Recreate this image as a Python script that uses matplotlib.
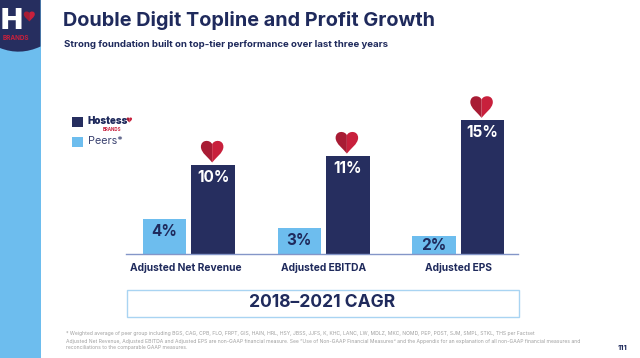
import matplotlib
matplotlib.use("Agg")
import matplotlib.pyplot as plt
from matplotlib.patches import Rectangle, PathPatch
from matplotlib.path import Path
from matplotlib.transforms import ScaledTranslation

categories = ["Adjusted Net Revenue", "Adjusted EBITDA", "Adjusted EPS"]
peers = [4, 3, 2]
hostess = [10, 11, 15]

NAVY = "#262e5f"
TEXT = "#1f2a5c"
LIGHT = "#6dbdee"
RED = "#c8203c"
DARKRED = "#a81c34"
GREY = "#a0a0a0"
FONT = "Inter"
W, H = 640, 358

plt.rcParams["font.family"] = [FONT, "DejaVu Sans"]
fig = plt.figure(figsize=(W / 100, H / 100), dpi=100, facecolor="white")

# overlay in pixel coordinates
ov = fig.add_axes([0, 0, 1, 1], zorder=0)
ov.set_xlim(0, W)
ov.set_ylim(H, 0)
ov.axis("off")

# chart axes
x0, x1, ybase, ytop = 126, 518, 254.3, 100
ax = fig.add_axes([x0 / W, 1 - ybase / H, (x1 - x0) / W, (ybase - ytop) / H], zorder=1)
ax.patch.set_alpha(0)
ax.set_xlim(-0.467, 2.443)
ax.set_ylim(0, (ybase - ytop) / 8.93)
pos = list(range(len(categories)))
bw, off = 0.323, 0.18
ax.bar([p - off for p in pos], peers, bw, color=LIGHT)
ax.bar([p + off for p in pos], hostess, bw, color=NAVY)
for s in ("top", "left", "right"):
    ax.spines[s].set_visible(False)
ax.spines["bottom"].set_color("#8496c8")
ax.spines["bottom"].set_linewidth(1.0)
ax.set_yticks([])
ax.set_xticks(pos, categories, fontsize=7.4, fontweight="bold", color=TEXT)
ax.tick_params(axis="x", length=0, pad=6)
first = ax.get_xticklabels()[0]
first.set_transform(first.get_transform() + ScaledTranslation(-3 / 100, 0, fig.dpi_scale_trans))


def draw_heart(cx, top, w=22.5, h=21.5):
    """Two-tone heart, cx/top in pixels of the overlay."""
    codes = [Path.MOVETO, Path.CURVE4, Path.CURVE4, Path.CURVE4, Path.CURVE4,
             Path.CURVE4, Path.CURVE4, Path.CLOSEPOLY]
    for sign, col in ((-1, DARKRED), (1, RED)):
        pts = [(0, .15), (.08, -.07), (.5, -.08), (.5, .27),
               (.5, .55), (.14, .8), (0, 1.0), (0, .15)]
        verts = [(cx + sign * u * w, top + v * h) for u, v in pts]
        ov.add_patch(PathPatch(Path(verts, codes), fc=col, ec="none"))


fig.canvas.draw()
for v, p in zip(hostess, pos):
    px, py = ax.transData.transform((p + off, v))
    draw_heart(px - 1, (H - py) - 24)
    ax.annotate(f"{v}%", (p + off, v), xytext=(0, -12.5 * .72), textcoords="offset points",
                ha="center", va="center", color="white", fontsize=11, fontweight="bold")
for v, p in zip(peers, pos):
    ax.annotate(f"{v}%", (p - off, v), xytext=(0, -min(12.5, v * 8.93 / 2) * .72), textcoords="offset points",
                ha="center", va="center", color=TEXT, fontsize=11, fontweight="bold")

# side band and logo
ov.add_patch(Rectangle((0, 0), 40.5, H, fc=LIGHT, ec="none"))
band = Path([(0, 0), (40.5, 0), (40.5, 46.5), (20, 56), (0, 48), (0, 0)],
            [Path.MOVETO, Path.LINETO, Path.LINETO, Path.CURVE3, Path.CURVE3, Path.CLOSEPOLY])
ov.add_patch(PathPatch(band, fc=NAVY, ec="none"))
ov.text(12, 29, "H", color="white", fontsize=21, fontweight="black", ha="center", va="baseline")
draw_heart(29.3, 11.5, 11, 10)
ov.text(15.5, 38, "BRANDS", color=RED, fontsize=4.6, fontweight="bold", ha="center", va="center")

# titles
ov.text(63, 20, "Double Digit Topline and Profit Growth", color=TEXT, fontsize=14.3,
        fontweight="bold", va="center", ha="left")
ov.text(64, 44.5, "Strong foundation built on top-tier performance over last three years", color=TEXT,
        fontsize=6.95, fontweight="bold", va="center", ha="left")

# legend
ov.add_patch(Rectangle((72, 116.5), 10.5, 10.5, fc=NAVY, ec="none"))
ov.add_patch(Rectangle((72, 136.5), 10.5, 10.5, fc=LIGHT, ec="none"))
ov.text(88, 121, "Hostess", color=TEXT, fontsize=7.0, fontweight="black", va="center", ha="left")
draw_heart(129.3, 117.5, 5.5, 5)
ov.text(112, 129.2, "BRANDS", color=RED, fontsize=3.2, fontweight="bold", va="center", ha="center")
ov.text(88, 141.5, "Peers*", color="#3a4270", fontsize=7.8, va="center", ha="left")

# CAGR box
ov.add_patch(Rectangle((126.5, 289.5), 392.5, 27, fc="white", ec="#a9d4f2", lw=1))
ov.text(322, 302.5, "2018\u20132021 CAGR", color=TEXT, fontsize=12.6, fontweight="bold", ha="center", va="center")

# footnotes
foot = [
    "* Weighted average of peer group including BGS, CAG, CPB, FLO, FRPT, GIS, HAIN, HRL, HSY, JBSS, JJFS, K, KHC, LANC, LW, MDLZ, MKC, NOMD, PEP, POST, SJM, SMPL, STKL, THS per Factset",
    "Adjusted Net Revenue, Adjusted EBITDA and Adjusted EPS are non-GAAP financial measure. See \u201cUse of Non-GAAP Financial Measures\u201d and the Appendix for an explanation of all non-GAAP financial measures and",
    "reconciliations to the comparable GAAP measures.",
]
for y, t in zip((334, 341.5, 348), foot):
    ov.text(66, y, t, color=GREY, fontsize=3.64, va="center", ha="left")
ov.text(618, 348.5, "111", color=TEXT, fontsize=5.6, fontweight="bold", va="center", ha="left")

fig.savefig("out.png", dpi=100)
